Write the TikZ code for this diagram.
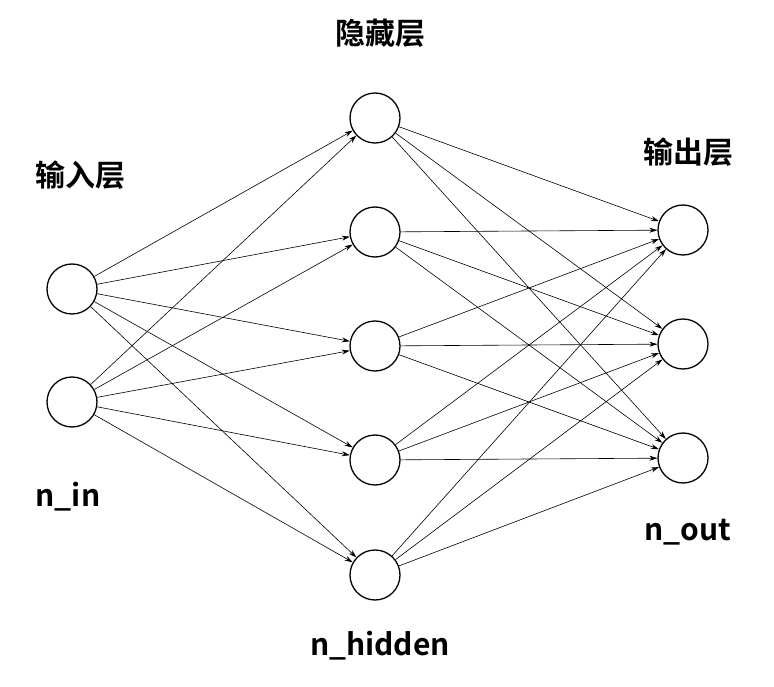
\documentclass[tikz,border=0pt]{standalone}
\usepackage{fontspec}
\newfontfamily\cjk{Noto Sans CJK SC}[BoldFont={Noto Sans CJK SC Bold}]
\usetikzlibrary{arrows.meta}
\begin{document}
\begin{tikzpicture}[x=1pt,y=-1pt,
  neuron/.style={circle,draw=black,line width=1.3pt,minimum size=50pt,inner sep=0pt},
  lbl/.style={font=\cjk\bfseries\fontsize{30}{32}\selectfont},
  conn/.style={line width=0.6pt,-{Stealth[length=8pt,width=5pt]}}]
\useasboundingbox (0,0) rectangle (774,687);
\node[neuron] (i1) at (72,289) {};
\node[neuron] (i2) at (72,402) {};
\foreach \k/\y in {1/118,2/232,3/346,4/460,5/575} \node[neuron] (h\k) at (375,\y) {};
\foreach \k/\y in {1/230,2/344,3/458} \node[neuron] (o\k) at (683,\y) {};
\foreach \i in {1,2} \foreach \k in {1,...,5} \draw[conn] (i\i) -- (h\k);
\foreach \k in {1,...,5} \foreach \j in {1,2,3} \draw[conn] (h\k) -- (o\j);
\node[lbl] (t1) at (80,175) {输入层};
\node[lbl] (t2) at (380,33) {隐藏层};
\node[lbl] (t3) at (688,152) {输出层};
\node[lbl] (b1) at (68,497) {n\_in};
\node[lbl] (b2) at (380,646) {n\_hidden};
\node[lbl] (b3) at (688,532) {n\_out};
\end{tikzpicture}
\end{document}
